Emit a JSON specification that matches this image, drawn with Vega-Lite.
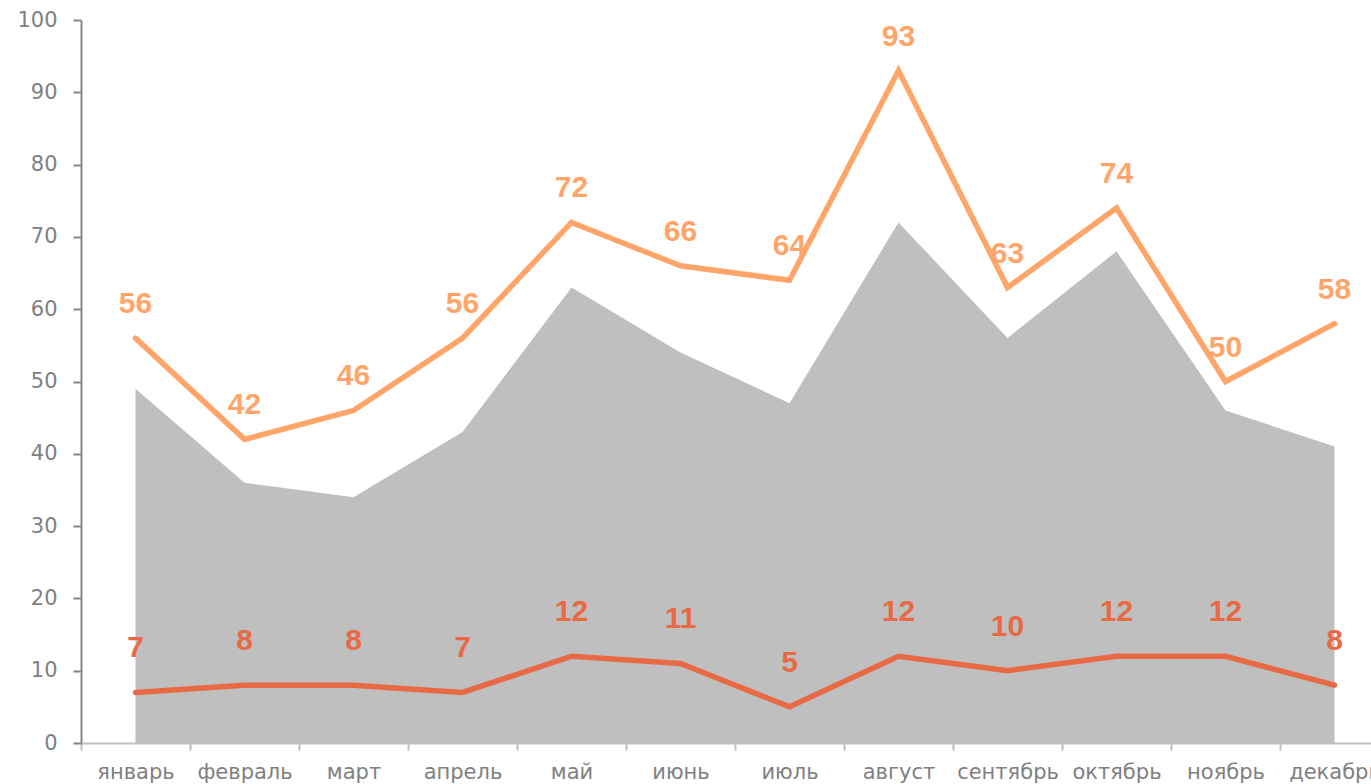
{
  "$schema": "https://vega.github.io/schema/vega-lite/v6.json",
  "width": 1290,
  "height": 723,
  "autosize": {"type": "none"},
  "padding": {"left": 81, "top": 20, "right": 0, "bottom": 41},
  "background": "white",
  "config": {"view": {"stroke": null}},
  "data": {
    "values": [
      {"month": "январь", "gray": 49, "orange": 56, "red": 7},
      {"month": "февраль", "gray": 36, "orange": 42, "red": 8},
      {"month": "март", "gray": 34, "orange": 46, "red": 8},
      {"month": "апрель", "gray": 43, "orange": 56, "red": 7},
      {"month": "май", "gray": 63, "orange": 72, "red": 12},
      {"month": "июнь", "gray": 54, "orange": 66, "red": 11},
      {"month": "июль", "gray": 47, "orange": 64, "red": 5},
      {"month": "август", "gray": 72, "orange": 93, "red": 12},
      {"month": "сентябрь", "gray": 56, "orange": 63, "red": 10},
      {"month": "октябрь", "gray": 68, "orange": 74, "red": 12},
      {"month": "ноябрь", "gray": 46, "orange": 50, "red": 12},
      {"month": "декабрь", "gray": 41, "orange": 58, "red": 8}
    ]
  },
  "encoding": {
    "x": {
      "field": "month",
      "type": "nominal",
      "sort": ["январь", "февраль", "март", "апрель", "май", "июнь", "июль", "август", "сентябрь", "октябрь", "ноябрь", "декабрь"],
      "scale": {"type": "band", "range": [0, 1308], "paddingInner": 0, "paddingOuter": 0},
      "axis": {
        "title": null,
        "labelAngle": 0,
        "tickBand": "extent",
        "domainColor": "#BFBFBF",
        "domainWidth": 2,
        "tickColor": "#BFBFBF",
        "tickWidth": 2,
        "tickSize": 7,
        "labelFont": "DejaVu Sans",
        "labelFontSize": 21,
        "labelColor": "#808080",
        "labelPadding": 11,
        "labelOverlap": false,
        "labelBound": false,
        "grid": false
      }
    }
  },
  "layer": [
    {
      "mark": {"type": "area", "color": "#BFBFBF", "opacity": 1},
      "encoding": {
        "y": {
          "field": "gray",
          "type": "quantitative",
          "scale": {"domain": [0, 100], "nice": false},
          "axis": {
            "title": null,
            "values": [0, 10, 20, 30, 40, 50, 60, 70, 80, 90, 100],
            "grid": false,
            "domainColor": "#868686",
            "domainWidth": 2,
            "tickColor": "#868686",
            "tickWidth": 2,
            "tickSize": 8,
            "labelFont": "DejaVu Sans",
            "labelFontSize": 21,
            "labelColor": "#808080",
            "labelPadding": 16
          }
        }
      }
    },
    {
      "mark": {"type": "line", "color": "#FFA56A", "strokeWidth": 5.5, "strokeCap": "round"},
      "encoding": {"y": {"field": "orange", "type": "quantitative"}}
    },
    {
      "mark": {"type": "line", "color": "#E86A45", "strokeWidth": 5.5, "strokeCap": "round"},
      "encoding": {"y": {"field": "red", "type": "quantitative"}}
    },
    {
      "mark": {"type": "text", "dy": -34, "font": "Liberation Sans", "fontWeight": "bold", "fontSize": 30, "fill": "#FFA56A"},
      "encoding": {"y": {"field": "orange", "type": "quantitative"}, "text": {"field": "orange"}}
    },
    {
      "mark": {"type": "text", "dy": -44, "font": "Liberation Sans", "fontWeight": "bold", "fontSize": 30, "fill": "#E86A45"},
      "encoding": {"y": {"field": "red", "type": "quantitative"}, "text": {"field": "red"}}
    }
  ]
}
